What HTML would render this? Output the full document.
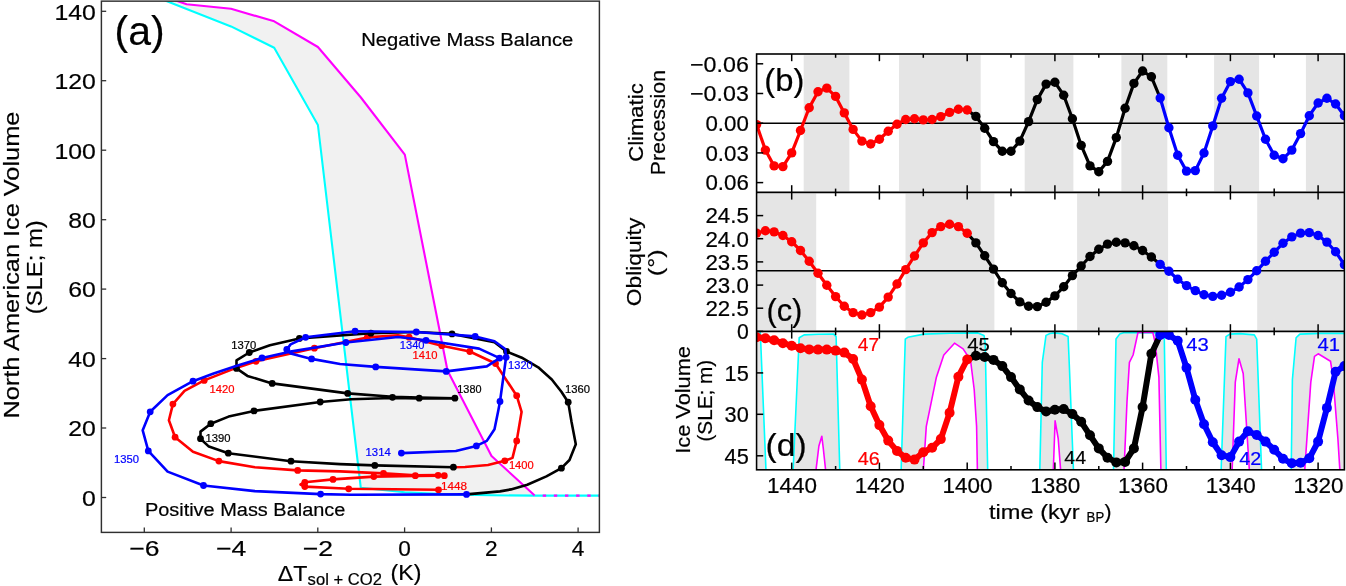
<!DOCTYPE html><html><head><meta charset="utf-8"><style>html,body{margin:0;padding:0;background:#fff;width:1346px;height:586px;overflow:hidden}svg{display:block;will-change:transform}text{font-family:"Liberation Sans", sans-serif;stroke-width:0.2px;paint-order:stroke}</style></head><body>
<svg width="1346" height="586" viewBox="0 0 1346 586">
<defs>
<clipPath id="cA"><rect x="101.4" y="1.15" width="498.0" height="531.25"/></clipPath>
<clipPath id="cB"><rect x="756.6" y="54.0" width="587.8000000000001" height="138.4"/></clipPath>
<clipPath id="cC"><rect x="756.6" y="192.4" width="587.8000000000001" height="138.99999999999997"/></clipPath>
<clipPath id="cD"><rect x="756.6" y="331.4" width="587.8000000000001" height="138.40000000000003"/></clipPath>
</defs>
<rect width="1346" height="586" fill="#fff"/>
<g clip-path="url(#cA)">
<polygon points="168.6,-2.0 186.6,4.2 231.0,8.8 274.2,21.3 317.9,47.0 360.9,97.5 404.8,154.6 447.5,370.5 491.5,455.9 534.7,495.6 534.7,495.6 491.3,495.3 447.9,494.4 404.6,492.2 360.8,487.8 317.9,125.0 274.2,47.8 231.0,26.4 158.7,-2.0" fill="#f1f1f1"/>
<polyline points="158.7,-2.0 231.0,26.4 274.2,47.8 317.9,125.0 360.8,487.8 404.6,492.2 447.9,494.4 491.3,495.3 534.7,495.6" fill="none" stroke="#0ff" stroke-width="2.1" stroke-linejoin="round"/>
<polyline points="168.6,-2.0 186.6,4.2 231.0,8.8 274.2,21.3 317.9,47.0 360.9,97.5 404.8,154.6 447.5,370.5 491.5,455.9 534.7,495.6" fill="none" stroke="#f0f" stroke-width="2.1" stroke-linejoin="round"/>
<line x1="534.7" y1="495.6" x2="601.4" y2="495.6" stroke="#0ff" stroke-width="2.3"/>
<line x1="534.7" y1="495.6" x2="601.4" y2="495.6" stroke="#f0f" stroke-width="2.3" stroke-dasharray="3.4 7.74" stroke-dashoffset="3.14"/>
<polyline points="438.5,489.8 348.7,488.8 304.8,486.6 300.5,484.5 304.8,482.3 333.0,479.4 373.8,476.6 415.3,475.9 438.1,475.6 444.3,475.7 438.1,475.0 415.3,475.2 383.5,473.4 340.0,471.4 297.7,470.4 254.9,467.2 218.9,461.1 193.0,451.7 175.1,437.2 168.9,420.3 172.9,404.1 184.5,390.9 204.2,380.4 236.1,367.9 256.0,361.3 314.4,348.2 367.3,337.4 398.0,335.3 409.1,337.2 441.8,345.7 469.8,351.5 495.5,363.5 516.7,395.7 521.6,411.8 516.7,440.9 512.5,457.9 504.8,460.8 488.0,465.0 465.0,467.0 453.4,467.2" fill="none" stroke-linejoin="round" stroke-linecap="round" stroke="#f00" stroke-width="2.6"/>
<circle cx="438.5" cy="489.8" r="3.4" fill="#f00"/>
<circle cx="348.7" cy="488.8" r="3.4" fill="#f00"/>
<circle cx="304.8" cy="486.6" r="3.4" fill="#f00"/>
<circle cx="304.8" cy="482.3" r="3.4" fill="#f00"/>
<circle cx="333.0" cy="479.4" r="3.4" fill="#f00"/>
<circle cx="373.8" cy="476.6" r="3.4" fill="#f00"/>
<circle cx="415.3" cy="475.7" r="3.4" fill="#f00"/>
<circle cx="438.1" cy="475.3" r="3.4" fill="#f00"/>
<circle cx="444.3" cy="475.7" r="3.4" fill="#f00"/>
<circle cx="383.5" cy="473.4" r="3.4" fill="#f00"/>
<circle cx="297.7" cy="470.4" r="3.4" fill="#f00"/>
<circle cx="218.9" cy="461.1" r="3.4" fill="#f00"/>
<circle cx="175.1" cy="437.2" r="3.4" fill="#f00"/>
<circle cx="172.9" cy="404.1" r="3.4" fill="#f00"/>
<circle cx="204.2" cy="380.4" r="3.4" fill="#f00"/>
<circle cx="256.0" cy="361.3" r="3.4" fill="#f00"/>
<circle cx="314.4" cy="348.2" r="3.4" fill="#f00"/>
<circle cx="367.3" cy="337.4" r="3.4" fill="#f00"/>
<circle cx="409.1" cy="337.2" r="3.4" fill="#f00"/>
<circle cx="441.8" cy="345.7" r="3.4" fill="#f00"/>
<circle cx="469.8" cy="351.5" r="3.4" fill="#f00"/>
<circle cx="495.5" cy="363.5" r="3.4" fill="#f00"/>
<circle cx="516.7" cy="395.7" r="3.4" fill="#f00"/>
<circle cx="516.7" cy="440.9" r="3.4" fill="#f00"/>
<circle cx="504.8" cy="460.8" r="3.4" fill="#f00"/>
<polyline points="453.4,467.2 374.8,465.4 340.0,464.1 291.0,461.2 228.3,453.2 208.9,446.6 200.5,438.7 200.5,431.6 210.8,423.7 228.6,416.6 254.0,410.9 320.2,402.0 351.0,399.2 392.5,398.0 419.2,398.4 454.9,398.4 419.2,397.6 392.5,396.8 347.7,393.4 272.2,383.4 247.4,375.9 236.5,368.4 236.5,360.4 249.3,352.5 269.9,345.3 299.4,338.4 370.9,333.2 416.0,332.0 452.0,333.9 494.5,342.2 506.5,351.5 521.8,357.7 538.2,367.3 551.8,379.5 561.4,391.8 568.2,402.2 571.5,421.8 575.8,444.2 569.5,460.0 561.4,468.2 546.4,476.4 527.3,484.8 510.9,489.4 500.0,491.4 466.5,494.4" fill="none" stroke-linejoin="round" stroke-linecap="round" stroke="#000" stroke-width="2.6"/>
<circle cx="453.4" cy="467.2" r="3.4" fill="#000"/>
<circle cx="374.8" cy="465.4" r="3.4" fill="#000"/>
<circle cx="291.0" cy="461.2" r="3.4" fill="#000"/>
<circle cx="228.3" cy="453.2" r="3.4" fill="#000"/>
<circle cx="200.5" cy="438.7" r="3.4" fill="#000"/>
<circle cx="210.8" cy="423.7" r="3.4" fill="#000"/>
<circle cx="254.0" cy="410.9" r="3.4" fill="#000"/>
<circle cx="320.2" cy="402.0" r="3.4" fill="#000"/>
<circle cx="392.5" cy="397.3" r="3.4" fill="#000"/>
<circle cx="419.2" cy="398.2" r="3.4" fill="#000"/>
<circle cx="454.9" cy="398.2" r="3.4" fill="#000"/>
<circle cx="347.7" cy="393.4" r="3.4" fill="#000"/>
<circle cx="272.2" cy="383.4" r="3.4" fill="#000"/>
<circle cx="236.5" cy="368.4" r="3.4" fill="#000"/>
<circle cx="249.3" cy="352.5" r="3.4" fill="#000"/>
<circle cx="299.4" cy="338.4" r="3.4" fill="#000"/>
<circle cx="370.9" cy="333.2" r="3.4" fill="#000"/>
<circle cx="452.0" cy="333.9" r="3.4" fill="#000"/>
<circle cx="506.5" cy="351.5" r="3.4" fill="#000"/>
<circle cx="568.2" cy="402.2" r="3.4" fill="#000"/>
<circle cx="561.4" cy="468.2" r="3.4" fill="#000"/>
<polyline points="466.5,494.4 351.0,494.8 320.6,494.1 254.9,491.1 203.5,485.5 167.6,471.6 148.3,450.9 142.7,430.3 150.2,411.8 167.6,395.1 193.0,381.2 213.6,373.5 236.1,366.0 262.0,357.9 288.7,351.9 345.9,342.5 398.0,337.0 426.0,340.3 479.1,348.6 499.6,358.1 486.8,366.4 446.2,371.4 375.7,366.9 340.0,364.0 311.6,358.9 290.6,353.4 286.8,349.5 290.6,344.4 305.6,337.3 355.1,331.2 416.3,332.0 475.2,336.4 494.5,341.2 505.2,349.0 506.1,357.3 500.0,401.5 498.4,410.0 494.5,429.3 486.8,440.9 476.4,445.9 455.9,451.0 401.4,453.1" fill="none" stroke-linejoin="round" stroke-linecap="round" stroke="#00f" stroke-width="2.6"/>
<circle cx="466.5" cy="494.4" r="3.4" fill="#00f"/>
<circle cx="320.6" cy="494.1" r="3.4" fill="#00f"/>
<circle cx="203.5" cy="485.5" r="3.4" fill="#00f"/>
<circle cx="148.3" cy="450.9" r="3.4" fill="#00f"/>
<circle cx="150.2" cy="411.8" r="3.4" fill="#00f"/>
<circle cx="193.0" cy="381.2" r="3.4" fill="#00f"/>
<circle cx="262.0" cy="357.9" r="3.4" fill="#00f"/>
<circle cx="345.9" cy="342.5" r="3.4" fill="#00f"/>
<circle cx="426.0" cy="340.3" r="3.4" fill="#00f"/>
<circle cx="499.6" cy="358.1" r="3.4" fill="#00f"/>
<circle cx="446.2" cy="371.4" r="3.4" fill="#00f"/>
<circle cx="375.7" cy="366.9" r="3.4" fill="#00f"/>
<circle cx="311.6" cy="358.9" r="3.4" fill="#00f"/>
<circle cx="286.8" cy="349.5" r="3.4" fill="#00f"/>
<circle cx="305.6" cy="337.3" r="3.4" fill="#00f"/>
<circle cx="355.1" cy="331.2" r="3.4" fill="#00f"/>
<circle cx="416.3" cy="332.0" r="3.4" fill="#00f"/>
<circle cx="475.2" cy="336.4" r="3.4" fill="#00f"/>
<circle cx="506.1" cy="357.3" r="3.4" fill="#00f"/>
<circle cx="500.0" cy="401.5" r="3.4" fill="#00f"/>
<circle cx="476.4" cy="445.9" r="3.4" fill="#00f"/>
<circle cx="401.4" cy="453.1" r="3.4" fill="#00f"/>
</g>
<text x="231.3" y="348.5" font-size="10.2" fill="#000" stroke="#000" textLength="25.0" lengthAdjust="spacingAndGlyphs">1370</text>
<text x="205.6" y="441.9" font-size="10.2" fill="#000" stroke="#000" textLength="25.0" lengthAdjust="spacingAndGlyphs">1390</text>
<text x="457.3" y="393.4" font-size="10.2" fill="#000" stroke="#000" textLength="24.2" lengthAdjust="spacingAndGlyphs">1380</text>
<text x="565.1" y="393.4" font-size="10.2" fill="#000" stroke="#000" textLength="25.0" lengthAdjust="spacingAndGlyphs">1360</text>
<text x="114.0" y="462.9" font-size="10.2" fill="#00f" stroke="#00f" textLength="25.0" lengthAdjust="spacingAndGlyphs">1350</text>
<text x="365.6" y="455.8" font-size="10.2" fill="#00f" stroke="#00f" textLength="25.1" lengthAdjust="spacingAndGlyphs">1314</text>
<text x="508.1" y="369.3" font-size="10.2" fill="#00f" stroke="#00f" textLength="24.6" lengthAdjust="spacingAndGlyphs">1320</text>
<text x="399.8" y="348.6" font-size="10.2" fill="#00f" stroke="#00f" textLength="24.7" lengthAdjust="spacingAndGlyphs">1340</text>
<text x="412.5" y="358.6" font-size="10.2" fill="#f00" stroke="#f00" textLength="25.0" lengthAdjust="spacingAndGlyphs">1410</text>
<text x="508.9" y="469.3" font-size="10.2" fill="#f00" stroke="#f00" textLength="24.8" lengthAdjust="spacingAndGlyphs">1400</text>
<text x="209.4" y="393.2" font-size="10.2" fill="#f00" stroke="#f00" textLength="25.0" lengthAdjust="spacingAndGlyphs">1420</text>
<text x="440.9" y="490.2" font-size="10.2" fill="#f00" stroke="#f00" textLength="26.1" lengthAdjust="spacingAndGlyphs">1448</text>
<text x="361.3" y="46.4" font-size="18.2" fill="#000" stroke="#000" textLength="212.0" lengthAdjust="spacingAndGlyphs">Negative Mass Balance</text>
<text x="144.9" y="516.0" font-size="18.0" fill="#000" stroke="#000" textLength="200.5" lengthAdjust="spacingAndGlyphs">Positive Mass Balance</text>
<text x="114.6" y="44.6" font-size="40" fill="#000" stroke="#000" textLength="50.0" lengthAdjust="spacingAndGlyphs">(a)</text>
<rect x="101.4" y="1.15" width="498.0" height="531.25" fill="none" stroke="#303030" stroke-width="1.45"/>
<line x1="101.4" y1="497.5" x2="106.2" y2="497.5" stroke="#303030" stroke-width="1.3"/>
<text x="95.8" y="505.8" font-size="22.5" fill="#000" stroke="#000" text-anchor="end" textLength="13.8" lengthAdjust="spacingAndGlyphs">0</text>
<line x1="101.4" y1="428.0" x2="106.2" y2="428.0" stroke="#303030" stroke-width="1.3"/>
<text x="95.8" y="436.3" font-size="22.5" fill="#000" stroke="#000" text-anchor="end" textLength="27.6" lengthAdjust="spacingAndGlyphs">20</text>
<line x1="101.4" y1="358.6" x2="106.2" y2="358.6" stroke="#303030" stroke-width="1.3"/>
<text x="95.8" y="366.9" font-size="22.5" fill="#000" stroke="#000" text-anchor="end" textLength="27.6" lengthAdjust="spacingAndGlyphs">40</text>
<line x1="101.4" y1="289.1" x2="106.2" y2="289.1" stroke="#303030" stroke-width="1.3"/>
<text x="95.8" y="297.4" font-size="22.5" fill="#000" stroke="#000" text-anchor="end" textLength="27.6" lengthAdjust="spacingAndGlyphs">60</text>
<line x1="101.4" y1="219.7" x2="106.2" y2="219.7" stroke="#303030" stroke-width="1.3"/>
<text x="95.8" y="228.0" font-size="22.5" fill="#000" stroke="#000" text-anchor="end" textLength="27.6" lengthAdjust="spacingAndGlyphs">80</text>
<line x1="101.4" y1="150.2" x2="106.2" y2="150.2" stroke="#303030" stroke-width="1.3"/>
<text x="95.8" y="158.5" font-size="22.5" fill="#000" stroke="#000" text-anchor="end" textLength="41.4" lengthAdjust="spacingAndGlyphs">100</text>
<line x1="101.4" y1="80.7" x2="106.2" y2="80.7" stroke="#303030" stroke-width="1.3"/>
<text x="95.8" y="89.0" font-size="22.5" fill="#000" stroke="#000" text-anchor="end" textLength="41.4" lengthAdjust="spacingAndGlyphs">120</text>
<line x1="101.4" y1="11.3" x2="106.2" y2="11.3" stroke="#303030" stroke-width="1.3"/>
<text x="95.8" y="19.6" font-size="22.5" fill="#000" stroke="#000" text-anchor="end" textLength="41.4" lengthAdjust="spacingAndGlyphs">140</text>
<line x1="144.3" y1="532.4" x2="144.3" y2="527.4" stroke="#303030" stroke-width="1.3"/>
<text x="129.3" y="555.6" font-size="22.3" fill="#000" stroke="#000" textLength="30.2" lengthAdjust="spacingAndGlyphs">−6</text>
<line x1="231.1" y1="532.4" x2="231.1" y2="527.4" stroke="#303030" stroke-width="1.3"/>
<text x="216.1" y="555.6" font-size="22.3" fill="#000" stroke="#000" textLength="30.2" lengthAdjust="spacingAndGlyphs">−4</text>
<line x1="317.8" y1="532.4" x2="317.8" y2="527.4" stroke="#303030" stroke-width="1.3"/>
<text x="302.8" y="555.6" font-size="22.3" fill="#000" stroke="#000" textLength="30.2" lengthAdjust="spacingAndGlyphs">−2</text>
<line x1="404.6" y1="532.4" x2="404.6" y2="527.4" stroke="#303030" stroke-width="1.3"/>
<text x="398.2" y="555.6" font-size="22.3" fill="#000" stroke="#000" textLength="12.6" lengthAdjust="spacingAndGlyphs">0</text>
<line x1="491.4" y1="532.4" x2="491.4" y2="527.4" stroke="#303030" stroke-width="1.3"/>
<text x="485.0" y="555.6" font-size="22.3" fill="#000" stroke="#000" textLength="12.6" lengthAdjust="spacingAndGlyphs">2</text>
<line x1="578.1" y1="532.4" x2="578.1" y2="527.4" stroke="#303030" stroke-width="1.3"/>
<text x="571.7" y="555.6" font-size="22.3" fill="#000" stroke="#000" textLength="12.6" lengthAdjust="spacingAndGlyphs">4</text>
<text x="18.9" y="418.6" font-size="22.4" fill="#000" stroke="#000" textLength="307.0" lengthAdjust="spacingAndGlyphs" transform="rotate(-90 18.9 418.6)">North American Ice Volume</text>
<text x="42.4" y="314.3" font-size="22.4" fill="#000" stroke="#000" textLength="94.0" lengthAdjust="spacingAndGlyphs" transform="rotate(-90 42.4 314.3)">(SLE; m)</text>
<text x="277.8" y="580.9" font-size="21.6" textLength="29.6" lengthAdjust="spacingAndGlyphs" stroke="#000">ΔT</text>
<text x="307.6" y="584.5" font-size="15.6" textLength="74.3" lengthAdjust="spacingAndGlyphs" stroke="#000">sol + CO2</text>
<text x="390.6" y="580.0" font-size="21.6" textLength="30.8" lengthAdjust="spacingAndGlyphs" stroke="#000">(K)</text>
<rect x="803.7" y="55.2" width="45.7" height="136.0" fill="#e5e5e5"/>
<rect x="899.0" y="55.2" width="81.7" height="136.0" fill="#e5e5e5"/>
<rect x="1024.7" y="55.2" width="48.7" height="136.0" fill="#e5e5e5"/>
<rect x="1121.4" y="55.2" width="45.9" height="136.0" fill="#e5e5e5"/>
<rect x="1214.1" y="55.2" width="45.0" height="136.0" fill="#e5e5e5"/>
<rect x="1305.9" y="55.2" width="37.3" height="136.0" fill="#e5e5e5"/>
<rect x="757.8000000000001" y="193.6" width="58.4" height="136.6" fill="#e5e5e5"/>
<rect x="905.5" y="193.6" width="88.9" height="136.6" fill="#e5e5e5"/>
<rect x="1077.1" y="193.6" width="91.0" height="136.6" fill="#e5e5e5"/>
<rect x="1257.2" y="193.6" width="86.0" height="136.6" fill="#e5e5e5"/>
<g clip-path="url(#cD)">
<polygon points="757.8,331.4 760.0,331.4 760.4,334.0 766.0,470.8 757.8,470.8" fill="#e5e5e5"/>
<polygon points="793.1,470.8 799.2,337.8 800.5,337.0 804.1,334.9 818.0,334.2 833.6,334.1 836.1,336.6 839.8,470.8" fill="#e5e5e5"/>
<polygon points="815.9,470.8 818.9,446.0 821.8,436.2 823.3,448.5 825.7,470.8" fill="#fff"/>
<polygon points="901.1,470.8 905.3,339.1 907.8,337.3 923.8,334.1 950.0,333.2 977.9,332.9 984.0,335.4 985.2,342.8 987.7,470.8" fill="#e5e5e5"/>
<polygon points="923.3,470.8 926.3,426.4 936.4,377.2 943.8,355.0 954.5,343.2 963.1,348.9 970.5,360.0 974.2,389.5 976.6,426.4 977.4,470.8" fill="#fff"/>
<polygon points="1039.8,470.8 1042.3,362.4 1046.0,335.4 1050.0,333.5 1054.6,332.9 1062.0,333.8 1068.1,336.6 1069.3,364.8 1073.5,470.8" fill="#e5e5e5"/>
<polygon points="1053.3,470.8 1055.1,420.8 1058.2,438.5 1060.7,470.8" fill="#fff"/>
<polygon points="1113.5,470.8 1116.0,339.0 1119.6,334.1 1124.5,332.6 1162.6,332.9 1164.3,337.8 1166.3,470.8" fill="#e5e5e5"/>
<polygon points="1124.0,470.8 1127.0,401.6 1129.4,362.4 1133.1,355.0 1138.0,332.4 1152.8,332.4 1155.2,342.7 1158.9,377.1 1160.9,470.8" fill="#fff"/>
<polygon points="1221.1,470.8 1226.0,336.6 1229.7,334.1 1240.0,333.6 1254.3,334.9 1256.7,339.1 1261.6,470.8" fill="#e5e5e5"/>
<polygon points="1232.1,470.8 1235.3,382.1 1239.0,358.7 1243.2,373.5 1249.4,470.8" fill="#fff"/>
<polygon points="1291.2,470.8 1292.4,379.6 1296.1,337.8 1299.8,334.1 1320.0,333.4 1344.4,333.4 1345.4,333.4 1345.4,470.8" fill="#e5e5e5"/>
<polygon points="1304.7,470.8 1310.8,382.1 1314.5,356.3 1318.2,353.8 1330.5,361.2 1333.0,377.2 1337.9,438.7 1339.9,470.8" fill="#fff"/>
<polyline points="760.0,332.0 760.4,334.0 766.0,470.8" fill="none" stroke="#0ff" stroke-width="1.6" stroke-linejoin="round"/>
<polyline points="793.1,470.8 799.2,337.8 800.5,337.0 804.1,334.9 818.0,334.2 833.6,334.1 836.1,336.6 839.8,470.8" fill="none" stroke="#0ff" stroke-width="1.6" stroke-linejoin="round"/>
<polyline points="815.9,470.8 818.9,446.0 821.8,436.2 823.3,448.5 825.7,470.8" fill="none" stroke="#f0f" stroke-width="1.6" stroke-linejoin="round"/>
<polyline points="901.1,470.8 905.3,339.1 907.8,337.3 923.8,334.1 950.0,333.2 977.9,332.9 984.0,335.4 985.2,342.8 987.7,470.8" fill="none" stroke="#0ff" stroke-width="1.6" stroke-linejoin="round"/>
<polyline points="923.3,470.8 926.3,426.4 936.4,377.2 943.8,355.0 954.5,343.2 963.1,348.9 970.5,360.0 974.2,389.5 976.6,426.4 977.4,470.8" fill="none" stroke="#f0f" stroke-width="1.6" stroke-linejoin="round"/>
<polyline points="1039.8,470.8 1042.3,362.4 1046.0,335.4 1050.0,333.5 1054.6,332.9 1062.0,333.8 1068.1,336.6 1069.3,364.8 1073.5,470.8" fill="none" stroke="#0ff" stroke-width="1.6" stroke-linejoin="round"/>
<polyline points="1053.3,470.8 1055.1,420.8 1058.2,438.5 1060.7,470.8" fill="none" stroke="#f0f" stroke-width="1.6" stroke-linejoin="round"/>
<polyline points="1113.5,470.8 1116.0,339.0 1119.6,334.1 1124.5,332.6 1162.6,332.9 1164.3,337.8 1166.3,470.8" fill="none" stroke="#0ff" stroke-width="1.6" stroke-linejoin="round"/>
<polyline points="1124.0,470.8 1127.0,401.6 1129.4,362.4 1133.1,355.0 1138.0,332.4 1152.8,332.4 1155.2,342.7 1158.9,377.1 1160.9,470.8" fill="none" stroke="#f0f" stroke-width="1.6" stroke-linejoin="round"/>
<polyline points="1221.1,470.8 1226.0,336.6 1229.7,334.1 1240.0,333.6 1254.3,334.9 1256.7,339.1 1261.6,470.8" fill="none" stroke="#0ff" stroke-width="1.6" stroke-linejoin="round"/>
<polyline points="1232.1,470.8 1235.3,382.1 1239.0,358.7 1243.2,373.5 1249.4,470.8" fill="none" stroke="#f0f" stroke-width="1.6" stroke-linejoin="round"/>
<polyline points="1291.2,470.8 1292.4,379.6 1296.1,337.8 1299.8,334.1 1320.0,333.4 1344.4,333.4" fill="none" stroke="#0ff" stroke-width="1.6" stroke-linejoin="round"/>
<polyline points="1304.7,470.8 1310.8,382.1 1314.5,356.3 1318.2,353.8 1330.5,361.2 1333.0,377.2 1337.9,438.7 1339.9,470.8" fill="none" stroke="#f0f" stroke-width="1.6" stroke-linejoin="round"/>
</g>
<line x1="756.6" y1="123.2" x2="1344.4" y2="123.2" stroke="#000" stroke-width="1.5"/>
<line x1="756.6" y1="270.8" x2="1344.4" y2="270.8" stroke="#000" stroke-width="1.5"/>
<g clip-path="url(#cB)" stroke-linejoin="round" stroke-linecap="round" fill="none">
<polyline points="967.2,110.0 975.9,116.4 984.7,128.2 993.5,141.6 1002.3,151.3 1011.0,151.3 1019.8,141.1 1028.6,121.6 1037.3,99.6 1046.1,84.1 1054.9,82.3 1063.7,95.2 1072.4,118.8 1081.2,145.4 1090.0,165.9 1098.8,171.7 1107.5,161.4 1116.3,137.6 1125.1,108.2 1133.9,83.4 1142.6,71.0 1151.4,76.8 1160.2,98.0" stroke="#000" stroke-width="3.2"/>
<polyline points="756.6,124.6 765.4,150.1 774.1,165.9 782.9,166.6 791.7,152.9 800.5,130.5 809.2,107.7 818.0,91.7 826.8,88.1 835.6,96.4 844.3,112.9 853.1,129.4 861.9,141.1 870.7,144.0 879.4,139.2 888.2,131.2 897.0,124.2 905.7,119.5 914.5,118.8 923.3,119.9 932.1,119.5 940.8,116.6 949.6,112.4 958.4,109.3 967.2,110.0" stroke="#f00" stroke-width="3.2"/>
<polyline points="1160.2,98.0 1168.9,127.7 1177.7,155.3 1186.5,171.1 1195.3,170.6 1204.0,153.0 1212.8,125.9 1221.6,98.3 1230.4,81.6 1239.1,79.2 1247.9,92.9 1256.7,116.0 1265.5,139.3 1274.2,155.3 1283.0,158.8 1291.8,150.1 1300.6,133.6 1309.3,115.7 1318.1,103.0 1326.9,98.3 1335.6,104.0 1344.4,115.7" stroke="#00f" stroke-width="3.2"/>
</g>
<g clip-path="url(#cB)">
<circle cx="975.9" cy="116.4" r="4.7" fill="#000"/>
<circle cx="984.7" cy="128.2" r="4.7" fill="#000"/>
<circle cx="993.5" cy="141.6" r="4.7" fill="#000"/>
<circle cx="1002.3" cy="151.3" r="4.7" fill="#000"/>
<circle cx="1011.0" cy="151.3" r="4.7" fill="#000"/>
<circle cx="1019.8" cy="141.1" r="4.7" fill="#000"/>
<circle cx="1028.6" cy="121.6" r="4.7" fill="#000"/>
<circle cx="1037.3" cy="99.6" r="4.7" fill="#000"/>
<circle cx="1046.1" cy="84.1" r="4.7" fill="#000"/>
<circle cx="1054.9" cy="82.3" r="4.7" fill="#000"/>
<circle cx="1063.7" cy="95.2" r="4.7" fill="#000"/>
<circle cx="1072.4" cy="118.8" r="4.7" fill="#000"/>
<circle cx="1081.2" cy="145.4" r="4.7" fill="#000"/>
<circle cx="1090.0" cy="165.9" r="4.7" fill="#000"/>
<circle cx="1098.8" cy="171.7" r="4.7" fill="#000"/>
<circle cx="1107.5" cy="161.4" r="4.7" fill="#000"/>
<circle cx="1116.3" cy="137.6" r="4.7" fill="#000"/>
<circle cx="1125.1" cy="108.2" r="4.7" fill="#000"/>
<circle cx="1133.9" cy="83.4" r="4.7" fill="#000"/>
<circle cx="1142.6" cy="71.0" r="4.7" fill="#000"/>
<circle cx="1151.4" cy="76.8" r="4.7" fill="#000"/>
<circle cx="756.6" cy="124.6" r="4.7" fill="#f00"/>
<circle cx="765.4" cy="150.1" r="4.7" fill="#f00"/>
<circle cx="774.1" cy="165.9" r="4.7" fill="#f00"/>
<circle cx="782.9" cy="166.6" r="4.7" fill="#f00"/>
<circle cx="791.7" cy="152.9" r="4.7" fill="#f00"/>
<circle cx="800.5" cy="130.5" r="4.7" fill="#f00"/>
<circle cx="809.2" cy="107.7" r="4.7" fill="#f00"/>
<circle cx="818.0" cy="91.7" r="4.7" fill="#f00"/>
<circle cx="826.8" cy="88.1" r="4.7" fill="#f00"/>
<circle cx="835.6" cy="96.4" r="4.7" fill="#f00"/>
<circle cx="844.3" cy="112.9" r="4.7" fill="#f00"/>
<circle cx="853.1" cy="129.4" r="4.7" fill="#f00"/>
<circle cx="861.9" cy="141.1" r="4.7" fill="#f00"/>
<circle cx="870.7" cy="144.0" r="4.7" fill="#f00"/>
<circle cx="879.4" cy="139.2" r="4.7" fill="#f00"/>
<circle cx="888.2" cy="131.2" r="4.7" fill="#f00"/>
<circle cx="897.0" cy="124.2" r="4.7" fill="#f00"/>
<circle cx="905.7" cy="119.5" r="4.7" fill="#f00"/>
<circle cx="914.5" cy="118.8" r="4.7" fill="#f00"/>
<circle cx="923.3" cy="119.9" r="4.7" fill="#f00"/>
<circle cx="932.1" cy="119.5" r="4.7" fill="#f00"/>
<circle cx="940.8" cy="116.6" r="4.7" fill="#f00"/>
<circle cx="949.6" cy="112.4" r="4.7" fill="#f00"/>
<circle cx="958.4" cy="109.3" r="4.7" fill="#f00"/>
<circle cx="967.2" cy="110.0" r="4.7" fill="#f00"/>
<circle cx="1160.2" cy="98.0" r="4.7" fill="#00f"/>
<circle cx="1168.9" cy="127.7" r="4.7" fill="#00f"/>
<circle cx="1177.7" cy="155.3" r="4.7" fill="#00f"/>
<circle cx="1186.5" cy="171.1" r="4.7" fill="#00f"/>
<circle cx="1195.3" cy="170.6" r="4.7" fill="#00f"/>
<circle cx="1204.0" cy="153.0" r="4.7" fill="#00f"/>
<circle cx="1212.8" cy="125.9" r="4.7" fill="#00f"/>
<circle cx="1221.6" cy="98.3" r="4.7" fill="#00f"/>
<circle cx="1230.4" cy="81.6" r="4.7" fill="#00f"/>
<circle cx="1239.1" cy="79.2" r="4.7" fill="#00f"/>
<circle cx="1247.9" cy="92.9" r="4.7" fill="#00f"/>
<circle cx="1256.7" cy="116.0" r="4.7" fill="#00f"/>
<circle cx="1265.5" cy="139.3" r="4.7" fill="#00f"/>
<circle cx="1274.2" cy="155.3" r="4.7" fill="#00f"/>
<circle cx="1283.0" cy="158.8" r="4.7" fill="#00f"/>
<circle cx="1291.8" cy="150.1" r="4.7" fill="#00f"/>
<circle cx="1300.6" cy="133.6" r="4.7" fill="#00f"/>
<circle cx="1309.3" cy="115.7" r="4.7" fill="#00f"/>
<circle cx="1318.1" cy="103.0" r="4.7" fill="#00f"/>
<circle cx="1326.9" cy="98.3" r="4.7" fill="#00f"/>
<circle cx="1335.6" cy="104.0" r="4.7" fill="#00f"/>
<circle cx="1344.4" cy="115.7" r="4.7" fill="#00f"/>
</g>
<g clip-path="url(#cC)" stroke-linejoin="round" stroke-linecap="round" fill="none">
<polyline points="967.2,233.3 975.9,242.9 984.7,255.8 993.5,269.1 1002.3,282.8 1011.0,293.5 1019.8,301.9 1028.6,306.2 1037.3,306.6 1046.1,302.3 1054.9,295.9 1063.7,286.8 1072.4,275.6 1081.2,266.0 1090.0,256.5 1098.8,249.3 1107.5,244.1 1116.3,242.2 1125.1,242.9 1133.9,245.7 1142.6,250.5 1151.4,257.0 1160.2,264.4" stroke="#000" stroke-width="3.2"/>
<polyline points="756.6,233.1 765.4,230.7 774.1,231.9 782.9,235.5 791.7,241.7 800.5,250.5 809.2,261.3 818.0,273.2 826.8,285.2 835.6,296.6 844.3,306.2 853.1,312.6 861.9,315.0 870.7,312.6 879.4,307.1 888.2,297.1 897.0,284.0 905.7,269.6 914.5,256.0 923.3,242.9 932.1,232.6 940.8,226.6 949.6,224.2 958.4,226.6 967.2,233.3" stroke="#f00" stroke-width="3.2"/>
<polyline points="1160.2,264.4 1168.9,271.3 1177.7,279.2 1186.5,285.6 1195.3,290.6 1204.0,294.7 1212.8,296.4 1221.6,295.2 1230.4,292.3 1239.1,287.0 1247.9,279.6 1256.7,270.8 1265.5,261.3 1274.2,252.2 1283.0,243.3 1291.8,236.9 1300.6,233.1 1309.3,232.6 1318.1,235.5 1326.9,242.1 1335.6,251.7 1344.4,264.8" stroke="#00f" stroke-width="3.2"/>
</g>
<g clip-path="url(#cC)">
<circle cx="975.9" cy="242.9" r="4.7" fill="#000"/>
<circle cx="984.7" cy="255.8" r="4.7" fill="#000"/>
<circle cx="993.5" cy="269.1" r="4.7" fill="#000"/>
<circle cx="1002.3" cy="282.8" r="4.7" fill="#000"/>
<circle cx="1011.0" cy="293.5" r="4.7" fill="#000"/>
<circle cx="1019.8" cy="301.9" r="4.7" fill="#000"/>
<circle cx="1028.6" cy="306.2" r="4.7" fill="#000"/>
<circle cx="1037.3" cy="306.6" r="4.7" fill="#000"/>
<circle cx="1046.1" cy="302.3" r="4.7" fill="#000"/>
<circle cx="1054.9" cy="295.9" r="4.7" fill="#000"/>
<circle cx="1063.7" cy="286.8" r="4.7" fill="#000"/>
<circle cx="1072.4" cy="275.6" r="4.7" fill="#000"/>
<circle cx="1081.2" cy="266.0" r="4.7" fill="#000"/>
<circle cx="1090.0" cy="256.5" r="4.7" fill="#000"/>
<circle cx="1098.8" cy="249.3" r="4.7" fill="#000"/>
<circle cx="1107.5" cy="244.1" r="4.7" fill="#000"/>
<circle cx="1116.3" cy="242.2" r="4.7" fill="#000"/>
<circle cx="1125.1" cy="242.9" r="4.7" fill="#000"/>
<circle cx="1133.9" cy="245.7" r="4.7" fill="#000"/>
<circle cx="1142.6" cy="250.5" r="4.7" fill="#000"/>
<circle cx="1151.4" cy="257.0" r="4.7" fill="#000"/>
<circle cx="756.6" cy="233.1" r="4.7" fill="#f00"/>
<circle cx="765.4" cy="230.7" r="4.7" fill="#f00"/>
<circle cx="774.1" cy="231.9" r="4.7" fill="#f00"/>
<circle cx="782.9" cy="235.5" r="4.7" fill="#f00"/>
<circle cx="791.7" cy="241.7" r="4.7" fill="#f00"/>
<circle cx="800.5" cy="250.5" r="4.7" fill="#f00"/>
<circle cx="809.2" cy="261.3" r="4.7" fill="#f00"/>
<circle cx="818.0" cy="273.2" r="4.7" fill="#f00"/>
<circle cx="826.8" cy="285.2" r="4.7" fill="#f00"/>
<circle cx="835.6" cy="296.6" r="4.7" fill="#f00"/>
<circle cx="844.3" cy="306.2" r="4.7" fill="#f00"/>
<circle cx="853.1" cy="312.6" r="4.7" fill="#f00"/>
<circle cx="861.9" cy="315.0" r="4.7" fill="#f00"/>
<circle cx="870.7" cy="312.6" r="4.7" fill="#f00"/>
<circle cx="879.4" cy="307.1" r="4.7" fill="#f00"/>
<circle cx="888.2" cy="297.1" r="4.7" fill="#f00"/>
<circle cx="897.0" cy="284.0" r="4.7" fill="#f00"/>
<circle cx="905.7" cy="269.6" r="4.7" fill="#f00"/>
<circle cx="914.5" cy="256.0" r="4.7" fill="#f00"/>
<circle cx="923.3" cy="242.9" r="4.7" fill="#f00"/>
<circle cx="932.1" cy="232.6" r="4.7" fill="#f00"/>
<circle cx="940.8" cy="226.6" r="4.7" fill="#f00"/>
<circle cx="949.6" cy="224.2" r="4.7" fill="#f00"/>
<circle cx="958.4" cy="226.6" r="4.7" fill="#f00"/>
<circle cx="967.2" cy="233.3" r="4.7" fill="#f00"/>
<circle cx="1160.2" cy="264.4" r="4.7" fill="#00f"/>
<circle cx="1168.9" cy="271.3" r="4.7" fill="#00f"/>
<circle cx="1177.7" cy="279.2" r="4.7" fill="#00f"/>
<circle cx="1186.5" cy="285.6" r="4.7" fill="#00f"/>
<circle cx="1195.3" cy="290.6" r="4.7" fill="#00f"/>
<circle cx="1204.0" cy="294.7" r="4.7" fill="#00f"/>
<circle cx="1212.8" cy="296.4" r="4.7" fill="#00f"/>
<circle cx="1221.6" cy="295.2" r="4.7" fill="#00f"/>
<circle cx="1230.4" cy="292.3" r="4.7" fill="#00f"/>
<circle cx="1239.1" cy="287.0" r="4.7" fill="#00f"/>
<circle cx="1247.9" cy="279.6" r="4.7" fill="#00f"/>
<circle cx="1256.7" cy="270.8" r="4.7" fill="#00f"/>
<circle cx="1265.5" cy="261.3" r="4.7" fill="#00f"/>
<circle cx="1274.2" cy="252.2" r="4.7" fill="#00f"/>
<circle cx="1283.0" cy="243.3" r="4.7" fill="#00f"/>
<circle cx="1291.8" cy="236.9" r="4.7" fill="#00f"/>
<circle cx="1300.6" cy="233.1" r="4.7" fill="#00f"/>
<circle cx="1309.3" cy="232.6" r="4.7" fill="#00f"/>
<circle cx="1318.1" cy="235.5" r="4.7" fill="#00f"/>
<circle cx="1326.9" cy="242.1" r="4.7" fill="#00f"/>
<circle cx="1335.6" cy="251.7" r="4.7" fill="#00f"/>
<circle cx="1344.4" cy="264.8" r="4.7" fill="#00f"/>
</g>
<g clip-path="url(#cD)" stroke-linejoin="round" stroke-linecap="round" fill="none">
<polyline points="967.2,359.5 975.9,355.8 984.7,357.0 993.5,359.9 1002.3,366.1 1011.0,377.1 1019.8,389.4 1028.6,400.5 1037.3,407.1 1046.1,411.5 1054.9,409.8 1063.7,409.1 1072.4,414.0 1081.2,421.8 1090.0,435.3 1098.8,448.4 1107.5,457.7 1116.3,462.4 1125.1,461.9 1133.9,448.4 1142.6,407.1 1151.4,353.8 1160.2,334.9" stroke="#000" stroke-width="6.0"/>
<polyline points="756.6,337.3 765.4,338.3 774.1,340.3 782.9,343.2 791.7,345.7 800.5,348.2 809.2,349.4 818.0,349.6 826.8,349.6 835.6,350.6 844.3,352.6 853.1,359.0 861.9,379.6 870.7,406.2 879.4,425.1 888.2,440.6 897.0,450.9 905.7,457.8 914.5,459.6 923.3,452.2 932.1,447.8 940.8,439.1 949.6,412.8 958.4,376.7 967.2,359.5" stroke="#f00" stroke-width="6.0"/>
<polyline points="1160.2,334.9 1168.9,334.9 1177.7,340.8 1186.5,367.8 1195.3,399.7 1204.0,424.3 1212.8,442.3 1221.6,455.3 1230.4,457.1 1239.1,441.6 1247.9,431.3 1256.7,435.0 1265.5,441.6 1274.2,449.7 1283.0,458.8 1291.8,463.3 1300.6,462.8 1309.3,458.3 1318.1,441.6 1326.9,407.9 1335.6,371.8 1344.4,366.1" stroke="#00f" stroke-width="6.0"/>
</g>
<g clip-path="url(#cD)">
<circle cx="975.9" cy="355.8" r="5.0" fill="#000"/>
<circle cx="984.7" cy="357.0" r="5.0" fill="#000"/>
<circle cx="993.5" cy="359.9" r="5.0" fill="#000"/>
<circle cx="1002.3" cy="366.1" r="5.0" fill="#000"/>
<circle cx="1011.0" cy="377.1" r="5.0" fill="#000"/>
<circle cx="1019.8" cy="389.4" r="5.0" fill="#000"/>
<circle cx="1028.6" cy="400.5" r="5.0" fill="#000"/>
<circle cx="1037.3" cy="407.1" r="5.0" fill="#000"/>
<circle cx="1046.1" cy="411.5" r="5.0" fill="#000"/>
<circle cx="1054.9" cy="409.8" r="5.0" fill="#000"/>
<circle cx="1063.7" cy="409.1" r="5.0" fill="#000"/>
<circle cx="1072.4" cy="414.0" r="5.0" fill="#000"/>
<circle cx="1081.2" cy="421.8" r="5.0" fill="#000"/>
<circle cx="1090.0" cy="435.3" r="5.0" fill="#000"/>
<circle cx="1098.8" cy="448.4" r="5.0" fill="#000"/>
<circle cx="1107.5" cy="457.7" r="5.0" fill="#000"/>
<circle cx="1116.3" cy="462.4" r="5.0" fill="#000"/>
<circle cx="1125.1" cy="461.9" r="5.0" fill="#000"/>
<circle cx="1133.9" cy="448.4" r="5.0" fill="#000"/>
<circle cx="1142.6" cy="407.1" r="5.0" fill="#000"/>
<circle cx="1151.4" cy="353.8" r="5.0" fill="#000"/>
<circle cx="756.6" cy="337.3" r="5.0" fill="#f00"/>
<circle cx="765.4" cy="338.3" r="5.0" fill="#f00"/>
<circle cx="774.1" cy="340.3" r="5.0" fill="#f00"/>
<circle cx="782.9" cy="343.2" r="5.0" fill="#f00"/>
<circle cx="791.7" cy="345.7" r="5.0" fill="#f00"/>
<circle cx="800.5" cy="348.2" r="5.0" fill="#f00"/>
<circle cx="809.2" cy="349.4" r="5.0" fill="#f00"/>
<circle cx="818.0" cy="349.6" r="5.0" fill="#f00"/>
<circle cx="826.8" cy="349.6" r="5.0" fill="#f00"/>
<circle cx="835.6" cy="350.6" r="5.0" fill="#f00"/>
<circle cx="844.3" cy="352.6" r="5.0" fill="#f00"/>
<circle cx="853.1" cy="359.0" r="5.0" fill="#f00"/>
<circle cx="861.9" cy="379.6" r="5.0" fill="#f00"/>
<circle cx="870.7" cy="406.2" r="5.0" fill="#f00"/>
<circle cx="879.4" cy="425.1" r="5.0" fill="#f00"/>
<circle cx="888.2" cy="440.6" r="5.0" fill="#f00"/>
<circle cx="897.0" cy="450.9" r="5.0" fill="#f00"/>
<circle cx="905.7" cy="457.8" r="5.0" fill="#f00"/>
<circle cx="914.5" cy="459.6" r="5.0" fill="#f00"/>
<circle cx="923.3" cy="452.2" r="5.0" fill="#f00"/>
<circle cx="932.1" cy="447.8" r="5.0" fill="#f00"/>
<circle cx="940.8" cy="439.1" r="5.0" fill="#f00"/>
<circle cx="949.6" cy="412.8" r="5.0" fill="#f00"/>
<circle cx="958.4" cy="376.7" r="5.0" fill="#f00"/>
<circle cx="967.2" cy="359.5" r="5.0" fill="#f00"/>
<circle cx="1160.2" cy="334.9" r="5.0" fill="#00f"/>
<circle cx="1168.9" cy="334.9" r="5.0" fill="#00f"/>
<circle cx="1177.7" cy="340.8" r="5.0" fill="#00f"/>
<circle cx="1186.5" cy="367.8" r="5.0" fill="#00f"/>
<circle cx="1195.3" cy="399.7" r="5.0" fill="#00f"/>
<circle cx="1204.0" cy="424.3" r="5.0" fill="#00f"/>
<circle cx="1212.8" cy="442.3" r="5.0" fill="#00f"/>
<circle cx="1221.6" cy="455.3" r="5.0" fill="#00f"/>
<circle cx="1230.4" cy="457.1" r="5.0" fill="#00f"/>
<circle cx="1239.1" cy="441.6" r="5.0" fill="#00f"/>
<circle cx="1247.9" cy="431.3" r="5.0" fill="#00f"/>
<circle cx="1256.7" cy="435.0" r="5.0" fill="#00f"/>
<circle cx="1265.5" cy="441.6" r="5.0" fill="#00f"/>
<circle cx="1274.2" cy="449.7" r="5.0" fill="#00f"/>
<circle cx="1283.0" cy="458.8" r="5.0" fill="#00f"/>
<circle cx="1291.8" cy="463.3" r="5.0" fill="#00f"/>
<circle cx="1300.6" cy="462.8" r="5.0" fill="#00f"/>
<circle cx="1309.3" cy="458.3" r="5.0" fill="#00f"/>
<circle cx="1318.1" cy="441.6" r="5.0" fill="#00f"/>
<circle cx="1326.9" cy="407.9" r="5.0" fill="#00f"/>
<circle cx="1335.6" cy="371.8" r="5.0" fill="#00f"/>
<circle cx="1344.4" cy="366.1" r="5.0" fill="#00f"/>
</g>
<rect x="756.6" y="54.0" width="587.8" height="415.8" fill="none" stroke="#000" stroke-width="1.6"/>
<line x1="756.6" y1="192.4" x2="1344.4" y2="192.4" stroke="#000" stroke-width="1.6"/>
<line x1="756.6" y1="331.4" x2="1344.4" y2="331.4" stroke="#000" stroke-width="1.6"/>
<line x1="791.7" y1="54.0" x2="791.7" y2="61.2" stroke="#000" stroke-width="1.5"/>
<line x1="791.7" y1="192.4" x2="791.7" y2="185.20000000000002" stroke="#000" stroke-width="1.5"/>
<line x1="791.7" y1="192.4" x2="791.7" y2="199.6" stroke="#000" stroke-width="1.5"/>
<line x1="791.7" y1="331.4" x2="791.7" y2="324.2" stroke="#000" stroke-width="1.5"/>
<line x1="791.7" y1="331.4" x2="791.7" y2="338.59999999999997" stroke="#000" stroke-width="1.5"/>
<line x1="791.7" y1="469.8" x2="791.7" y2="462.6" stroke="#000" stroke-width="1.5"/>
<line x1="835.6" y1="54.0" x2="835.6" y2="57.8" stroke="#000" stroke-width="1.5"/>
<line x1="835.6" y1="192.4" x2="835.6" y2="188.6" stroke="#000" stroke-width="1.5"/>
<line x1="835.6" y1="192.4" x2="835.6" y2="196.20000000000002" stroke="#000" stroke-width="1.5"/>
<line x1="835.6" y1="331.4" x2="835.6" y2="327.59999999999997" stroke="#000" stroke-width="1.5"/>
<line x1="835.6" y1="331.4" x2="835.6" y2="335.2" stroke="#000" stroke-width="1.5"/>
<line x1="835.6" y1="469.8" x2="835.6" y2="466.0" stroke="#000" stroke-width="1.5"/>
<line x1="879.4" y1="54.0" x2="879.4" y2="61.2" stroke="#000" stroke-width="1.5"/>
<line x1="879.4" y1="192.4" x2="879.4" y2="185.20000000000002" stroke="#000" stroke-width="1.5"/>
<line x1="879.4" y1="192.4" x2="879.4" y2="199.6" stroke="#000" stroke-width="1.5"/>
<line x1="879.4" y1="331.4" x2="879.4" y2="324.2" stroke="#000" stroke-width="1.5"/>
<line x1="879.4" y1="331.4" x2="879.4" y2="338.59999999999997" stroke="#000" stroke-width="1.5"/>
<line x1="879.4" y1="469.8" x2="879.4" y2="462.6" stroke="#000" stroke-width="1.5"/>
<line x1="923.3" y1="54.0" x2="923.3" y2="57.8" stroke="#000" stroke-width="1.5"/>
<line x1="923.3" y1="192.4" x2="923.3" y2="188.6" stroke="#000" stroke-width="1.5"/>
<line x1="923.3" y1="192.4" x2="923.3" y2="196.20000000000002" stroke="#000" stroke-width="1.5"/>
<line x1="923.3" y1="331.4" x2="923.3" y2="327.59999999999997" stroke="#000" stroke-width="1.5"/>
<line x1="923.3" y1="331.4" x2="923.3" y2="335.2" stroke="#000" stroke-width="1.5"/>
<line x1="923.3" y1="469.8" x2="923.3" y2="466.0" stroke="#000" stroke-width="1.5"/>
<line x1="967.2" y1="54.0" x2="967.2" y2="61.2" stroke="#000" stroke-width="1.5"/>
<line x1="967.2" y1="192.4" x2="967.2" y2="185.20000000000002" stroke="#000" stroke-width="1.5"/>
<line x1="967.2" y1="192.4" x2="967.2" y2="199.6" stroke="#000" stroke-width="1.5"/>
<line x1="967.2" y1="331.4" x2="967.2" y2="324.2" stroke="#000" stroke-width="1.5"/>
<line x1="967.2" y1="331.4" x2="967.2" y2="338.59999999999997" stroke="#000" stroke-width="1.5"/>
<line x1="967.2" y1="469.8" x2="967.2" y2="462.6" stroke="#000" stroke-width="1.5"/>
<line x1="1011.0" y1="54.0" x2="1011.0" y2="57.8" stroke="#000" stroke-width="1.5"/>
<line x1="1011.0" y1="192.4" x2="1011.0" y2="188.6" stroke="#000" stroke-width="1.5"/>
<line x1="1011.0" y1="192.4" x2="1011.0" y2="196.20000000000002" stroke="#000" stroke-width="1.5"/>
<line x1="1011.0" y1="331.4" x2="1011.0" y2="327.59999999999997" stroke="#000" stroke-width="1.5"/>
<line x1="1011.0" y1="331.4" x2="1011.0" y2="335.2" stroke="#000" stroke-width="1.5"/>
<line x1="1011.0" y1="469.8" x2="1011.0" y2="466.0" stroke="#000" stroke-width="1.5"/>
<line x1="1054.9" y1="54.0" x2="1054.9" y2="61.2" stroke="#000" stroke-width="1.5"/>
<line x1="1054.9" y1="192.4" x2="1054.9" y2="185.20000000000002" stroke="#000" stroke-width="1.5"/>
<line x1="1054.9" y1="192.4" x2="1054.9" y2="199.6" stroke="#000" stroke-width="1.5"/>
<line x1="1054.9" y1="331.4" x2="1054.9" y2="324.2" stroke="#000" stroke-width="1.5"/>
<line x1="1054.9" y1="331.4" x2="1054.9" y2="338.59999999999997" stroke="#000" stroke-width="1.5"/>
<line x1="1054.9" y1="469.8" x2="1054.9" y2="462.6" stroke="#000" stroke-width="1.5"/>
<line x1="1098.8" y1="54.0" x2="1098.8" y2="57.8" stroke="#000" stroke-width="1.5"/>
<line x1="1098.8" y1="192.4" x2="1098.8" y2="188.6" stroke="#000" stroke-width="1.5"/>
<line x1="1098.8" y1="192.4" x2="1098.8" y2="196.20000000000002" stroke="#000" stroke-width="1.5"/>
<line x1="1098.8" y1="331.4" x2="1098.8" y2="327.59999999999997" stroke="#000" stroke-width="1.5"/>
<line x1="1098.8" y1="331.4" x2="1098.8" y2="335.2" stroke="#000" stroke-width="1.5"/>
<line x1="1098.8" y1="469.8" x2="1098.8" y2="466.0" stroke="#000" stroke-width="1.5"/>
<line x1="1142.6" y1="54.0" x2="1142.6" y2="61.2" stroke="#000" stroke-width="1.5"/>
<line x1="1142.6" y1="192.4" x2="1142.6" y2="185.20000000000002" stroke="#000" stroke-width="1.5"/>
<line x1="1142.6" y1="192.4" x2="1142.6" y2="199.6" stroke="#000" stroke-width="1.5"/>
<line x1="1142.6" y1="331.4" x2="1142.6" y2="324.2" stroke="#000" stroke-width="1.5"/>
<line x1="1142.6" y1="331.4" x2="1142.6" y2="338.59999999999997" stroke="#000" stroke-width="1.5"/>
<line x1="1142.6" y1="469.8" x2="1142.6" y2="462.6" stroke="#000" stroke-width="1.5"/>
<line x1="1186.5" y1="54.0" x2="1186.5" y2="57.8" stroke="#000" stroke-width="1.5"/>
<line x1="1186.5" y1="192.4" x2="1186.5" y2="188.6" stroke="#000" stroke-width="1.5"/>
<line x1="1186.5" y1="192.4" x2="1186.5" y2="196.20000000000002" stroke="#000" stroke-width="1.5"/>
<line x1="1186.5" y1="331.4" x2="1186.5" y2="327.59999999999997" stroke="#000" stroke-width="1.5"/>
<line x1="1186.5" y1="331.4" x2="1186.5" y2="335.2" stroke="#000" stroke-width="1.5"/>
<line x1="1186.5" y1="469.8" x2="1186.5" y2="466.0" stroke="#000" stroke-width="1.5"/>
<line x1="1230.4" y1="54.0" x2="1230.4" y2="61.2" stroke="#000" stroke-width="1.5"/>
<line x1="1230.4" y1="192.4" x2="1230.4" y2="185.20000000000002" stroke="#000" stroke-width="1.5"/>
<line x1="1230.4" y1="192.4" x2="1230.4" y2="199.6" stroke="#000" stroke-width="1.5"/>
<line x1="1230.4" y1="331.4" x2="1230.4" y2="324.2" stroke="#000" stroke-width="1.5"/>
<line x1="1230.4" y1="331.4" x2="1230.4" y2="338.59999999999997" stroke="#000" stroke-width="1.5"/>
<line x1="1230.4" y1="469.8" x2="1230.4" y2="462.6" stroke="#000" stroke-width="1.5"/>
<line x1="1274.2" y1="54.0" x2="1274.2" y2="57.8" stroke="#000" stroke-width="1.5"/>
<line x1="1274.2" y1="192.4" x2="1274.2" y2="188.6" stroke="#000" stroke-width="1.5"/>
<line x1="1274.2" y1="192.4" x2="1274.2" y2="196.20000000000002" stroke="#000" stroke-width="1.5"/>
<line x1="1274.2" y1="331.4" x2="1274.2" y2="327.59999999999997" stroke="#000" stroke-width="1.5"/>
<line x1="1274.2" y1="331.4" x2="1274.2" y2="335.2" stroke="#000" stroke-width="1.5"/>
<line x1="1274.2" y1="469.8" x2="1274.2" y2="466.0" stroke="#000" stroke-width="1.5"/>
<line x1="1318.1" y1="54.0" x2="1318.1" y2="61.2" stroke="#000" stroke-width="1.5"/>
<line x1="1318.1" y1="192.4" x2="1318.1" y2="185.20000000000002" stroke="#000" stroke-width="1.5"/>
<line x1="1318.1" y1="192.4" x2="1318.1" y2="199.6" stroke="#000" stroke-width="1.5"/>
<line x1="1318.1" y1="331.4" x2="1318.1" y2="324.2" stroke="#000" stroke-width="1.5"/>
<line x1="1318.1" y1="331.4" x2="1318.1" y2="338.59999999999997" stroke="#000" stroke-width="1.5"/>
<line x1="1318.1" y1="469.8" x2="1318.1" y2="462.6" stroke="#000" stroke-width="1.5"/>
<line x1="756.6" y1="63.8" x2="763.2" y2="63.8" stroke="#000" stroke-width="1.5"/>
<text x="690.0" y="71.6" font-size="21.4" fill="#000" stroke="#000" textLength="58.8" lengthAdjust="spacingAndGlyphs">−0.06</text>
<line x1="756.6" y1="93.5" x2="763.2" y2="93.5" stroke="#000" stroke-width="1.5"/>
<text x="690.0" y="101.3" font-size="21.4" fill="#000" stroke="#000" textLength="58.8" lengthAdjust="spacingAndGlyphs">−0.03</text>
<line x1="756.6" y1="123.2" x2="763.2" y2="123.2" stroke="#000" stroke-width="1.5"/>
<text x="748.8" y="131.0" font-size="21.4" fill="#000" stroke="#000" text-anchor="end" textLength="43.4" lengthAdjust="spacingAndGlyphs">0.00</text>
<line x1="756.6" y1="152.9" x2="763.2" y2="152.9" stroke="#000" stroke-width="1.5"/>
<text x="748.8" y="160.7" font-size="21.4" fill="#000" stroke="#000" text-anchor="end" textLength="43.4" lengthAdjust="spacingAndGlyphs">0.03</text>
<line x1="756.6" y1="182.6" x2="763.2" y2="182.6" stroke="#000" stroke-width="1.5"/>
<text x="748.8" y="190.4" font-size="21.4" fill="#000" stroke="#000" text-anchor="end" textLength="43.4" lengthAdjust="spacingAndGlyphs">0.06</text>
<line x1="756.6" y1="215.6" x2="763.2" y2="215.6" stroke="#000" stroke-width="1.5"/>
<text x="748.8" y="223.4" font-size="21.4" fill="#000" stroke="#000" text-anchor="end" textLength="43.4" lengthAdjust="spacingAndGlyphs">24.5</text>
<line x1="756.6" y1="238.7" x2="763.2" y2="238.7" stroke="#000" stroke-width="1.5"/>
<text x="748.8" y="246.5" font-size="21.4" fill="#000" stroke="#000" text-anchor="end" textLength="43.4" lengthAdjust="spacingAndGlyphs">24.0</text>
<line x1="756.6" y1="261.9" x2="763.2" y2="261.9" stroke="#000" stroke-width="1.5"/>
<text x="748.8" y="269.7" font-size="21.4" fill="#000" stroke="#000" text-anchor="end" textLength="43.4" lengthAdjust="spacingAndGlyphs">23.5</text>
<line x1="756.6" y1="285.1" x2="763.2" y2="285.1" stroke="#000" stroke-width="1.5"/>
<text x="748.8" y="292.9" font-size="21.4" fill="#000" stroke="#000" text-anchor="end" textLength="43.4" lengthAdjust="spacingAndGlyphs">23.0</text>
<line x1="756.6" y1="308.2" x2="763.2" y2="308.2" stroke="#000" stroke-width="1.5"/>
<text x="748.8" y="316.0" font-size="21.4" fill="#000" stroke="#000" text-anchor="end" textLength="43.4" lengthAdjust="spacingAndGlyphs">22.5</text>
<line x1="756.6" y1="331.4" x2="763.2" y2="331.4" stroke="#000" stroke-width="1.5"/>
<text x="748.8" y="339.2" font-size="21.4" fill="#000" stroke="#000" text-anchor="end" textLength="11.8" lengthAdjust="spacingAndGlyphs">0</text>
<line x1="756.6" y1="372.9" x2="763.2" y2="372.9" stroke="#000" stroke-width="1.5"/>
<text x="748.8" y="380.7" font-size="21.4" fill="#000" stroke="#000" text-anchor="end" textLength="24.2" lengthAdjust="spacingAndGlyphs">15</text>
<line x1="756.6" y1="414.3" x2="763.2" y2="414.3" stroke="#000" stroke-width="1.5"/>
<text x="748.8" y="422.1" font-size="21.4" fill="#000" stroke="#000" text-anchor="end" textLength="24.2" lengthAdjust="spacingAndGlyphs">30</text>
<line x1="756.6" y1="455.8" x2="763.2" y2="455.8" stroke="#000" stroke-width="1.5"/>
<text x="748.8" y="463.6" font-size="21.4" fill="#000" stroke="#000" text-anchor="end" textLength="24.2" lengthAdjust="spacingAndGlyphs">45</text>
<text x="792.0" y="492.6" font-size="21.4" fill="#000" stroke="#000" text-anchor="middle" textLength="50.0" lengthAdjust="spacingAndGlyphs">1440</text>
<text x="879.7" y="492.6" font-size="21.4" fill="#000" stroke="#000" text-anchor="middle" textLength="50.0" lengthAdjust="spacingAndGlyphs">1420</text>
<text x="967.5" y="492.6" font-size="21.4" fill="#000" stroke="#000" text-anchor="middle" textLength="50.0" lengthAdjust="spacingAndGlyphs">1400</text>
<text x="1055.2" y="492.6" font-size="21.4" fill="#000" stroke="#000" text-anchor="middle" textLength="50.0" lengthAdjust="spacingAndGlyphs">1380</text>
<text x="1142.9" y="492.6" font-size="21.4" fill="#000" stroke="#000" text-anchor="middle" textLength="50.0" lengthAdjust="spacingAndGlyphs">1360</text>
<text x="1230.7" y="492.6" font-size="21.4" fill="#000" stroke="#000" text-anchor="middle" textLength="50.0" lengthAdjust="spacingAndGlyphs">1340</text>
<text x="1318.4" y="492.6" font-size="21.4" fill="#000" stroke="#000" text-anchor="middle" textLength="50.0" lengthAdjust="spacingAndGlyphs">1320</text>
<text x="989.0" y="519.2" font-size="21.0" fill="#000" stroke="#000" textLength="90.5" lengthAdjust="spacingAndGlyphs">time (kyr</text>
<text x="1086.6" y="522.3" font-size="13.8" fill="#000" stroke="#000" textLength="17.6" lengthAdjust="spacingAndGlyphs">BP</text>
<text x="1104.5" y="519.2" font-size="21.0" fill="#000" stroke="#000" textLength="7.0" lengthAdjust="spacingAndGlyphs">)</text>
<text x="764.3" y="91.3" font-size="31.5" fill="#000" stroke="#000" textLength="40.0" lengthAdjust="spacingAndGlyphs">(b)</text>
<text x="766.4" y="320.6" font-size="31.5" fill="#000" stroke="#000" textLength="36.0" lengthAdjust="spacingAndGlyphs">(c)</text>
<text x="765.6" y="455.6" font-size="31.5" fill="#000" stroke="#000" textLength="41.0" lengthAdjust="spacingAndGlyphs">(d)</text>
<text x="857.8" y="351.4" font-size="17.5" fill="#f00" stroke="#f00" textLength="21.3" lengthAdjust="spacingAndGlyphs">47</text>
<text x="857.8" y="464.5" font-size="17.5" fill="#f00" stroke="#f00" textLength="22.0" lengthAdjust="spacingAndGlyphs">46</text>
<text x="967.2" y="350.6" font-size="17.5" fill="#000" stroke="#000" textLength="22.6" lengthAdjust="spacingAndGlyphs">45</text>
<text x="1064.3" y="464.3" font-size="17.5" fill="#000" stroke="#000" textLength="21.8" lengthAdjust="spacingAndGlyphs">44</text>
<text x="1186.2" y="351.3" font-size="17.5" fill="#00f" stroke="#00f" textLength="22.5" lengthAdjust="spacingAndGlyphs">43</text>
<text x="1239.2" y="464.5" font-size="17.5" fill="#00f" stroke="#00f" textLength="22.0" lengthAdjust="spacingAndGlyphs">42</text>
<text x="1317.4" y="350.6" font-size="17.5" fill="#00f" stroke="#00f" textLength="22.5" lengthAdjust="spacingAndGlyphs">41</text>
<text x="642.6" y="161.8" font-size="21.0" fill="#000" stroke="#000" textLength="78.5" lengthAdjust="spacingAndGlyphs" transform="rotate(-90 642.6 161.8)">Climatic</text>
<text x="664.6" y="175.2" font-size="21.0" fill="#000" stroke="#000" textLength="105.2" lengthAdjust="spacingAndGlyphs" transform="rotate(-90 664.6 175.2)">Precession</text>
<text x="641.5" y="306.2" font-size="21.0" fill="#000" stroke="#000" textLength="88.5" lengthAdjust="spacingAndGlyphs" transform="rotate(-90 641.5 306.2)">Obliquity</text>
<text x="663.4" y="276.2" font-size="21.0" fill="#000" stroke="#000" textLength="27.0" lengthAdjust="spacingAndGlyphs" transform="rotate(-90 663.4 276.2)">(°)</text>
<text x="690.5" y="453.8" font-size="21.0" fill="#000" stroke="#000" textLength="107.8" lengthAdjust="spacingAndGlyphs" transform="rotate(-90 690.5 453.8)">Ice Volume</text>
<text x="711.6" y="441.6" font-size="21.0" fill="#000" stroke="#000" textLength="81.8" lengthAdjust="spacingAndGlyphs" transform="rotate(-90 711.6 441.6)">(SLE; m)</text>
</svg></body></html>
